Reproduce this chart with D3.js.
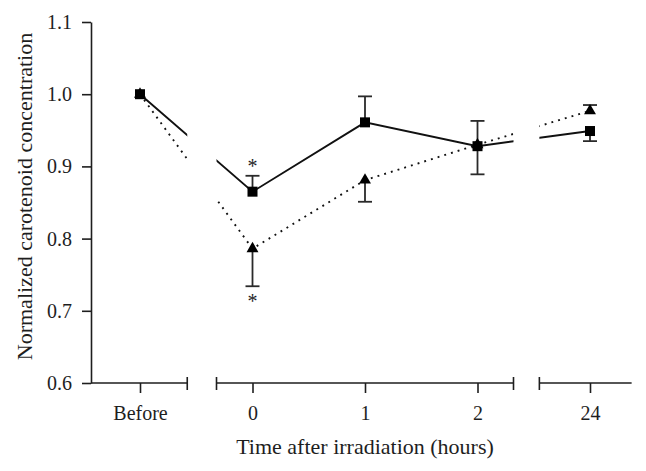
<!DOCTYPE html>
<html>
<head>
<meta charset="utf-8">
<script src="https://cdn.jsdelivr.net/npm/d3@7"></script>
<style>
  body { margin: 0; background: #fff; }
  svg { font-family: "Liberation Serif", "DejaVu Serif", serif; }
</style>
</head>
<body>
<div id="svg-container"></div>
<script>
////////////////////////////  Data  ////////////////////////////
const categories = ["Before", "0", "1", "2", "24"];
const yTicks = [0.6, 0.7, 0.8, 0.9, 1.0, 1.1];

// squares, solid line
const squareMean = [1.0, 0.865, 0.961, 0.928, 0.949];
const squareErr = [0, 0.022, 0.036, 0.035, 0.014];
const squareErrDir = [0, 1, 1, 1, -1]; // 1 = bar up, -1 = bar down

// triangles, dotted line
const triangleMean = [1.0, 0.786, 0.881, 0.93, 0.977];
const triangleErr = [0, 0.052, 0.03, 0.041, 0.008];
const triangleErrDir = [0, -1, -1, -1, 1];

// significance marks: [series, category]
const sigMarks = [["square", "0"], ["triangle", "0"]];

////////////////////////////  Init  ////////////////////////////
const width = 646, height = 471;
const ink = "#1e1e1e";

const svg = d3.select("#svg-container").append("svg")
  .attr("width", width).attr("height", height);

const xScale = d3.scalePoint().domain(categories).range([140, 590]);
const yScale = d3.scaleLinear().domain([0.6, 1.1]).range([383, 22]);
const step = xScale.step();
const x0 = 91; // y axis position

// extents of the broken x axis pieces
const pieceExt = [
  [x0, xScale("Before") + 0.42 * step],
  [xScale("0") - 0.32 * step, xScale("2") + 0.32 * step],
  [xScale("24") - 0.45 * step, xScale("24") + 0.37 * step]
];
const capLeft = [false, true, true];
const capRight = [true, true, false];

const squares = categories.map((c, i) => ({ key: c, v: squareMean[i], e: squareErr[i], dir: squareErrDir[i] }));
const triangles = categories.map((c, i) => ({ key: c, v: triangleMean[i], e: triangleErr[i], dir: triangleErrDir[i] }));

////////////////////////////  Axes  ////////////////////////////
const yAxis = d3.axisLeft(yScale)
  .tickValues(yTicks)
  .tickFormat(d3.format(".1f"))
  .tickSize(9)
  .tickPadding(10)
  .tickSizeOuter(0);

const gy = svg.append("g")
  .attr("transform", `translate(${x0},0)`)
  .call(yAxis)
  .attr("font-family", null).attr("font-size", 20);
gy.selectAll("text").attr("fill", ink);
gy.selectAll("line, path").attr("stroke", ink).attr("stroke-width", 1.6);

const xAxis = d3.axisBottom(xScale).tickSize(10).tickPadding(13).tickSizeOuter(0);
const gx = svg.append("g")
  .attr("transform", `translate(0,${yScale(0.6)})`)
  .call(xAxis)
  .attr("font-family", null).attr("font-size", 20);
gx.select(".domain").remove();
gx.selectAll("text").attr("fill", ink);
gx.selectAll("line").attr("stroke", ink).attr("stroke-width", 1.6);

pieceExt.forEach((p, i) => {
  gx.append("line").attr("x1", p[0]).attr("x2", p[1])
    .attr("stroke", ink).attr("stroke-width", 1.6);
  if (capLeft[i]) gx.append("line").attr("x1", p[0]).attr("x2", p[0]).attr("y1", -6).attr("y2", 7)
    .attr("stroke", ink).attr("stroke-width", 1.6);
  if (capRight[i]) gx.append("line").attr("x1", p[1]).attr("x2", p[1]).attr("y1", -6).attr("y2", 7)
    .attr("stroke", ink).attr("stroke-width", 1.6);
});

// titles
svg.append("text")
  .attr("x", xScale("1")).attr("y", 454)
  .attr("text-anchor", "middle").attr("font-size", 22).attr("fill", ink)
  .text("Time after irradiation (hours)");

svg.append("text")
  .attr("transform", `translate(32,${(yScale(0.6) + yScale(1.1)) / 2 - 6}) rotate(-90)`)
  .attr("text-anchor", "middle").attr("font-size", 22).attr("fill", ink)
  .text("Normalized carotenoid concentration");

////////////////////////////  Lines  ////////////////////////////
const clip = svg.append("clipPath").attr("id", "pieces");
pieceExt.forEach((p) => {
  clip.append("rect").attr("x", p[0]).attr("y", 0).attr("width", p[1] - p[0]).attr("height", height);
});

const line = d3.line().x((d) => xScale(d.key)).y((d) => yScale(d.v));

const lines = svg.append("g").attr("clip-path", "url(#pieces)");
lines.append("path").datum(triangles)
  .attr("fill", "none").attr("stroke", "#111").attr("stroke-width", 1.9)
  .attr("stroke-dasharray", "1.9,5.1")
  .attr("d", line);
lines.append("path").datum(squares)
  .attr("fill", "none").attr("stroke", "#111").attr("stroke-width", 1.9)
  .attr("d", line);

////////////////////////////  Error bars  ////////////////////////////
const errG = svg.append("g").attr("stroke", "#2a2a2a").attr("stroke-width", 1.8);
[...squares, ...triangles].filter((d) => d.e > 0).forEach((d) => {
  const cx = xScale(d.key);
  const yEnd = yScale(d.v + d.dir * d.e);
  errG.append("line").attr("x1", cx).attr("x2", cx).attr("y1", yScale(d.v)).attr("y2", yEnd);
  errG.append("line").attr("x1", cx - 7).attr("x2", cx + 7).attr("y1", yEnd).attr("y2", yEnd);
});

////////////////////////////  Markers  ////////////////////////////
svg.append("g").selectAll("path")
  .data(triangles).join("path")
  .attr("transform", (d) => `translate(${xScale(d.key)},${yScale(d.v)})`)
  .attr("d", d3.symbol(d3.symbolTriangle, 62))
  .attr("fill", "#000");

svg.append("g").selectAll("rect")
  .data(squares).join("rect")
  .attr("x", (d) => xScale(d.key) - 5)
  .attr("y", (d) => yScale(d.v) - 5)
  .attr("width", 10).attr("height", 10)
  .attr("fill", "#000");

////////////////////////////  Significance  ////////////////////////////
sigMarks.forEach(([series, key]) => {
  const d = (series === "square" ? squares : triangles).find((s) => s.key === key);
  const yEnd = yScale(d.v + d.dir * d.e);
  const cy = yEnd - d.dir * 12; // just beyond the bar end
  svg.append("text")
    .attr("x", xScale(key)).attr("y", cy + 9.5)
    .attr("text-anchor", "middle").attr("font-size", 20).attr("fill", ink)
    .text("*");
});
</script>
</body>
</html>
